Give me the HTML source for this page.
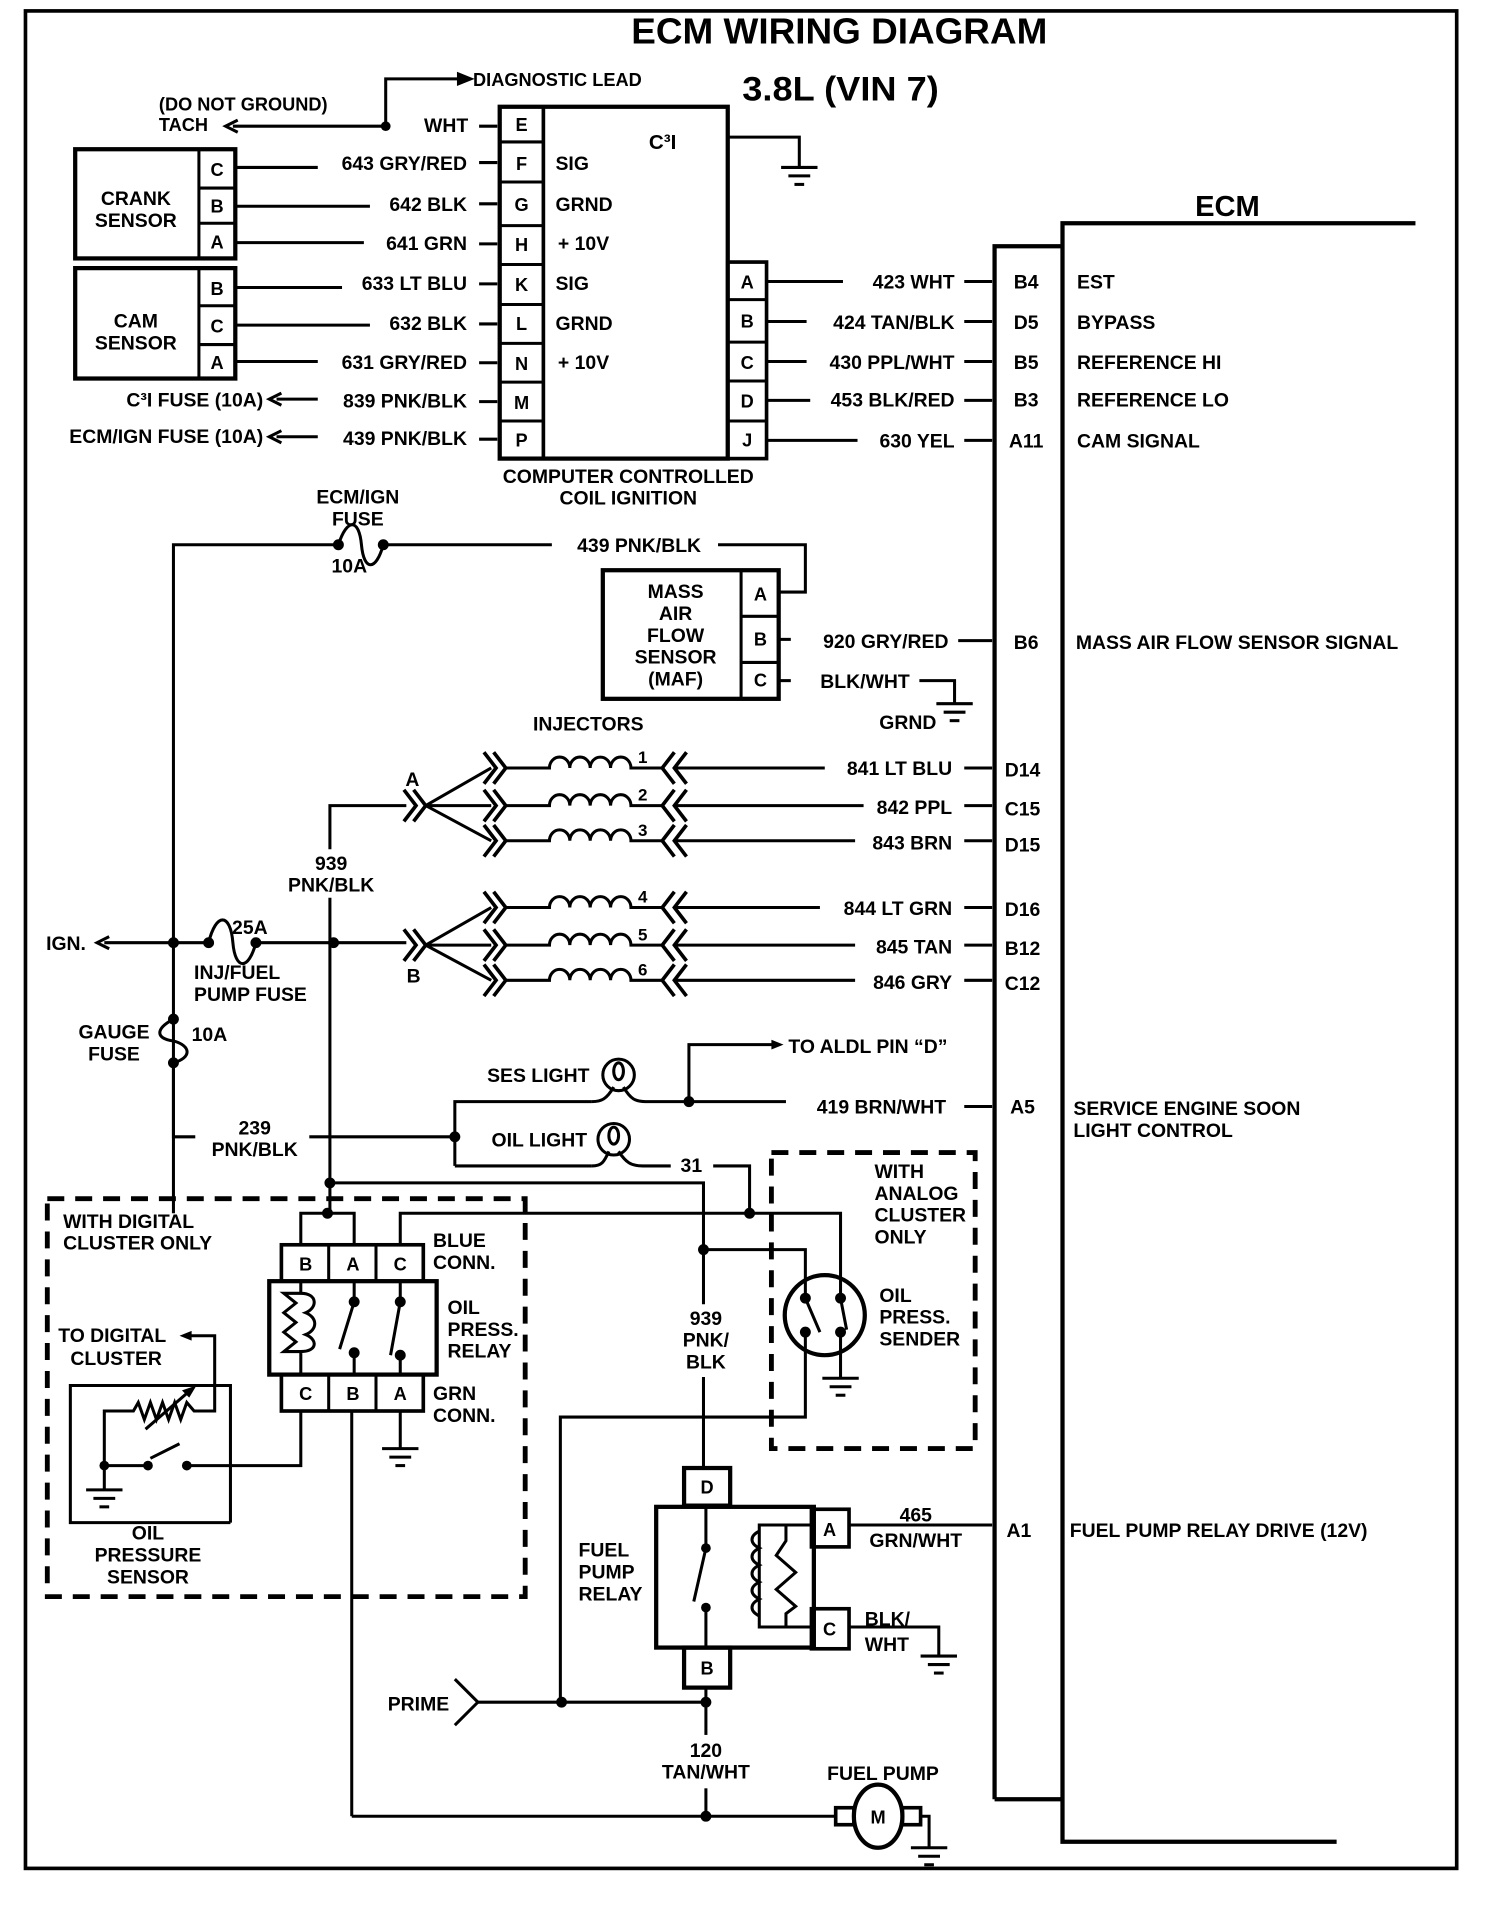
<!DOCTYPE html>
<html><head><meta charset="utf-8"><style>
html,body{margin:0;padding:0;background:#fff;}
svg{display:block;}
text{font-family:"Liberation Sans",sans-serif;font-weight:bold;fill:#000;}
</style></head><body>
<svg width="1504" height="1906" viewBox="0 0 1240 1571" preserveAspectRatio="none" xmlns="http://www.w3.org/2000/svg">
<defs>
<g id="gnd"><line x1="-15" y1="0" x2="15" y2="0" stroke="#000" stroke-width="2.5"/><line x1="-9" y1="7" x2="9" y2="7" stroke="#000" stroke-width="2.5"/><line x1="-4" y1="14" x2="4" y2="14" stroke="#000" stroke-width="2.5"/></g>
<g id="lch"><polyline points="-10,-13 0,0 -10,13" fill="none" stroke="#000" stroke-width="3"/><polyline points="-2,-13 8,0 -2,13" fill="none" stroke="#000" stroke-width="3"/></g>
<g id="rch"><polyline points="10,-13 0,0 10,13" fill="none" stroke="#000" stroke-width="3"/><polyline points="20,-13 10,0 20,13" fill="none" stroke="#000" stroke-width="3"/></g>
</defs>
<rect x="0" y="0" width="1240" height="1571" fill="#fff"/>
<g fill="none" stroke="#000" stroke-width="2.5">
<rect x="21" y="9" width="1180" height="1531" stroke-width="3"/>
</g>
<text x="692" y="36" font-size="30" text-anchor="middle" textLength="343" lengthAdjust="spacingAndGlyphs">ECM WIRING DIAGRAM</text>
<text x="693" y="83" font-size="28" text-anchor="middle" textLength="162" lengthAdjust="spacingAndGlyphs">3.8L (VIN 7)</text>

<g fill="none" stroke="#000" stroke-width="2.5">
<polyline points="318,104 318,65 380,65"/>
<polygon points="388,65 378,61 378,69" fill="#000"/>
<line x1="318" y1="104" x2="192" y2="104"/>
<polyline points="196,99 186,104 196,109"/>
<line x1="395" y1="104" x2="410" y2="104"/>
<rect x="412" y="88" width="188" height="290" stroke-width="3.5"/>
<line x1="448" y1="88" x2="448" y2="378" stroke-width="3"/>
<rect x="600" y="216" width="32" height="162" stroke-width="3"/>
<line x1="600" y1="247" x2="632" y2="247"/><line x1="600" y1="282" x2="632" y2="282"/><line x1="600" y1="314" x2="632" y2="314"/><line x1="600" y1="347" x2="632" y2="347"/>
<line x1="412" y1="117" x2="448" y2="117"/><line x1="412" y1="150" x2="448" y2="150"/><line x1="412" y1="186" x2="448" y2="186"/><line x1="412" y1="218" x2="448" y2="218"/><line x1="412" y1="251" x2="448" y2="251"/><line x1="412" y1="283" x2="448" y2="283"/><line x1="412" y1="315" x2="448" y2="315"/><line x1="412" y1="347" x2="448" y2="347"/>
<polyline points="600,113 659,113 659,138"/>
<rect x="62" y="123" width="132" height="90" stroke-width="3.5"/>
<line x1="164" y1="123" x2="164" y2="213"/><line x1="164" y1="155" x2="194" y2="155"/><line x1="164" y1="184" x2="194" y2="184"/>
<rect x="62" y="221" width="132" height="91" stroke-width="3.5"/>
<line x1="164" y1="221" x2="164" y2="312"/><line x1="164" y1="252" x2="194" y2="252"/><line x1="164" y1="284" x2="194" y2="284"/>
<line x1="194" y1="138" x2="262" y2="138"/>
<line x1="194" y1="170" x2="305" y2="170"/>
<line x1="194" y1="200" x2="300" y2="200"/>
<line x1="194" y1="237" x2="282" y2="237"/>
<line x1="194" y1="268" x2="305" y2="268"/>
<line x1="194" y1="298" x2="262" y2="298"/>
<line x1="395" y1="134" x2="410" y2="134"/><line x1="395" y1="168" x2="410" y2="168"/><line x1="395" y1="201" x2="410" y2="201"/><line x1="395" y1="234" x2="410" y2="234"/><line x1="395" y1="267" x2="410" y2="267"/><line x1="395" y1="299" x2="410" y2="299"/><line x1="395" y1="331" x2="410" y2="331"/><line x1="395" y1="362" x2="410" y2="362"/>
<line x1="262" y1="329" x2="228" y2="329"/><polyline points="232,324 222,329 232,334"/>
<line x1="262" y1="360" x2="228" y2="360"/><polyline points="232,355 222,360 232,365"/>
<line x1="632" y1="232" x2="695" y2="232"/><line x1="632" y1="265" x2="665" y2="265"/><line x1="632" y1="298" x2="665" y2="298"/><line x1="632" y1="330" x2="668" y2="330"/><line x1="632" y1="363" x2="707" y2="363"/>
<line x1="795" y1="232" x2="818" y2="232"/><line x1="795" y1="265" x2="818" y2="265"/><line x1="795" y1="298" x2="818" y2="298"/><line x1="795" y1="330" x2="818" y2="330"/><line x1="795" y1="363" x2="818" y2="363"/>
<polyline points="820,1483 820,203 876,203" stroke-width="3.5"/>
<line x1="820" y1="1483" x2="876" y2="1483" stroke-width="3.5"/>
<polyline points="1167,184 876,184 876,1518 1102,1518" stroke-width="3.5"/>
<polyline points="143,1000 143,449 279,449"/>
<path d="M279,449 C286,427 296,427 298,449 C300,471 310,471 316,449"/>
<line x1="316" y1="449" x2="455" y2="449"/>
<polyline points="592,449 664,449 664,488 642,488"/>
<rect x="497" y="470" width="145" height="106" stroke-width="3.5"/>
<line x1="611" y1="470" x2="611" y2="576"/><line x1="611" y1="508" x2="642" y2="508"/><line x1="611" y1="546" x2="642" y2="546"/>
<line x1="642" y1="527" x2="652" y2="527"/><line x1="642" y1="561" x2="652" y2="561"/>
<line x1="790" y1="528" x2="818" y2="528"/>
<polyline points="758,561 787,561 787,580"/>
</g>
<use href="#gnd" x="787" y="580"/>
<use href="#gnd" x="659" y="138"/>
<circle cx="318" cy="104" r="4"/><circle cx="279" cy="449" r="4.5"/><circle cx="316" cy="449" r="4.5"/>

<g font-size="16">
<text x="390" y="71" font-size="15">DIAGNOSTIC LEAD</text>
<text x="131" y="91" font-size="15">(DO NOT GROUND)</text>
<text x="131" y="108" font-size="15">TACH</text>
<text x="386" y="109" text-anchor="end">WHT</text>
<text x="385" y="140" text-anchor="end">643 GRY/RED</text>
<text x="385" y="174" text-anchor="end">642 BLK</text>
<text x="385" y="206" text-anchor="end">641 GRN</text>
<text x="385" y="239" text-anchor="end">633 LT BLU</text>
<text x="385" y="272" text-anchor="end">632 BLK</text>
<text x="385" y="304" text-anchor="end">631 GRY/RED</text>
<text x="385" y="336" text-anchor="end">839 PNK/BLK</text>
<text x="385" y="367" text-anchor="end">439 PNK/BLK</text>
<text x="217" y="335" text-anchor="end">C³I FUSE (10A)</text>
<text x="217" y="365" text-anchor="end">ECM/IGN FUSE (10A)</text>
<text x="112" y="169" text-anchor="middle">CRANK</text><text x="112" y="187" text-anchor="middle">SENSOR</text>
<text x="112" y="270" text-anchor="middle">CAM</text><text x="112" y="288" text-anchor="middle">SENSOR</text>
<g text-anchor="middle" font-size="15">
<text x="179" y="145">C</text><text x="179" y="175">B</text><text x="179" y="205">A</text>
<text x="179" y="243">B</text><text x="179" y="274">C</text><text x="179" y="304">A</text>
<text x="430" y="108">E</text><text x="430" y="140">F</text><text x="430" y="174">G</text><text x="430" y="207">H</text><text x="430" y="240">K</text><text x="430" y="272">L</text><text x="430" y="305">N</text><text x="430" y="337">M</text><text x="430" y="368">P</text>
<text x="616" y="238">A</text><text x="616" y="270">B</text><text x="616" y="304">C</text><text x="616" y="336">D</text><text x="616" y="368">J</text>
<text x="627" y="495">A</text><text x="627" y="532">B</text><text x="627" y="566">C</text>
</g>
<text x="458" y="140">SIG</text><text x="458" y="174">GRND</text><text x="460" y="206">+ 10V</text>
<text x="458" y="239">SIG</text><text x="458" y="272">GRND</text><text x="460" y="304">+ 10V</text>
<text x="535" y="123" font-size="17">C³I</text>
<text x="518" y="398" text-anchor="middle">COMPUTER CONTROLLED</text>
<text x="518" y="416" text-anchor="middle">COIL IGNITION</text>
<text x="787" y="238" text-anchor="end">423 WHT</text>
<text x="787" y="271" text-anchor="end">424 TAN/BLK</text>
<text x="787" y="304" text-anchor="end">430 PPL/WHT</text>
<text x="787" y="335" text-anchor="end">453 BLK/RED</text>
<text x="787" y="369" text-anchor="end">630 YEL</text>
<text x="1012" y="178" font-size="24" text-anchor="middle">ECM</text>
<g text-anchor="middle">
<text x="846" y="238">B4</text><text x="846" y="271">D5</text><text x="846" y="304">B5</text><text x="846" y="335">B3</text><text x="846" y="369">A11</text>
<text x="846" y="535">B6</text><text x="843" y="640">D14</text><text x="843" y="672">C15</text><text x="843" y="702">D15</text><text x="843" y="755">D16</text><text x="843" y="787">B12</text><text x="843" y="816">C12</text>
<text x="843" y="918">A5</text><text x="840" y="1267">A1</text>
</g>
<text x="888" y="238">EST</text><text x="888" y="271">BYPASS</text><text x="888" y="304">REFERENCE HI</text><text x="888" y="335">REFERENCE LO</text><text x="888" y="369">CAM SIGNAL</text>
<text x="887" y="535">MASS AIR FLOW SENSOR SIGNAL</text>
<text x="885" y="919">SERVICE ENGINE SOON</text><text x="885" y="937">LIGHT CONTROL</text>
<text x="882" y="1267">FUEL PUMP RELAY DRIVE (12V)</text>
<text x="295" y="415" text-anchor="middle">ECM/IGN</text><text x="295" y="433" text-anchor="middle">FUSE</text><text x="288" y="472" text-anchor="middle">10A</text>
<text x="578" y="455" text-anchor="end">439 PNK/BLK</text>
<g text-anchor="middle"><text x="557" y="493">MASS</text><text x="557" y="511">AIR</text><text x="557" y="529">FLOW</text><text x="557" y="547">SENSOR</text><text x="557" y="565">(MAF)</text></g>
<text x="782" y="534" text-anchor="end">920 GRY/RED</text>
<text x="750" y="567" text-anchor="end">BLK/WHT</text>
<text x="772" y="601" text-anchor="end">GRND</text>
<text x="485" y="602" text-anchor="middle">INJECTORS</text>
</g>

<g fill="none" stroke="#000" stroke-width="2.5">
<path d="M417,633 H453 a8.4,9 0 0 1 16.8,0 a8.4,9 0 0 1 16.8,0 a8.4,9 0 0 1 16.8,0 a8.4,9 0 0 1 16.8,0 H547 M556,633 H680"/>
<path d="M417,664 H453 a8.4,9 0 0 1 16.8,0 a8.4,9 0 0 1 16.8,0 a8.4,9 0 0 1 16.8,0 a8.4,9 0 0 1 16.8,0 H547 M556,664 H712"/>
<path d="M417,693 H453 a8.4,9 0 0 1 16.8,0 a8.4,9 0 0 1 16.8,0 a8.4,9 0 0 1 16.8,0 a8.4,9 0 0 1 16.8,0 H547 M556,693 H705"/>
<path d="M417,748 H453 a8.4,9 0 0 1 16.8,0 a8.4,9 0 0 1 16.8,0 a8.4,9 0 0 1 16.8,0 a8.4,9 0 0 1 16.8,0 H547 M556,748 H676"/>
<path d="M417,779 H453 a8.4,9 0 0 1 16.8,0 a8.4,9 0 0 1 16.8,0 a8.4,9 0 0 1 16.8,0 a8.4,9 0 0 1 16.8,0 H547 M556,779 H705"/>
<path d="M417,808 H453 a8.4,9 0 0 1 16.8,0 a8.4,9 0 0 1 16.8,0 a8.4,9 0 0 1 16.8,0 a8.4,9 0 0 1 16.8,0 H547 M556,808 H705"/>
<path d="M351,664 L405,633 M351,664 H405 M351,664 L405,693"/>
<path d="M351,779 L405,748 M351,779 H405 M351,779 L405,808"/>
<line x1="795" y1="633" x2="818" y2="633"/><line x1="795" y1="664" x2="818" y2="664"/><line x1="795" y1="693" x2="818" y2="693"/><line x1="795" y1="748" x2="818" y2="748"/><line x1="795" y1="779" x2="818" y2="779"/><line x1="795" y1="808" x2="818" y2="808"/>
<polyline points="272,700 272,664 335,664"/>
<line x1="272" y1="740" x2="272" y2="1000"/>
<line x1="86" y1="777" x2="172" y2="777"/>
<polyline points="90,772 80,777 90,782"/>
<path d="M172,777 C178,752 190,752 192,777 C194,800 205,800 211,777"/>
<line x1="211" y1="777" x2="335" y2="777"/>
<path d="M143,840 C128,848 128,856 143,858 C158,862 158,872 143,876"/>
<polyline points="143,876 143,937 161,937"/>
<line x1="255" y1="937" x2="375" y2="937"/>
<polyline points="375,961 375,908 488,908"/>
<line x1="375" y1="961" x2="488" y2="961"/>
</g>
<g>
<use href="#lch" x="409" y="633"/><use href="#lch" x="409" y="664"/><use href="#lch" x="409" y="693"/>
<use href="#lch" x="409" y="748"/><use href="#lch" x="409" y="779"/><use href="#lch" x="409" y="808"/>
<use href="#rch" x="546" y="633"/><use href="#rch" x="546" y="664"/><use href="#rch" x="546" y="693"/>
<use href="#rch" x="546" y="748"/><use href="#rch" x="546" y="779"/><use href="#rch" x="546" y="808"/>
<use href="#lch" x="343" y="664"/><use href="#lch" x="343" y="779"/>
</g>
<circle cx="143" cy="777" r="4.5"/><circle cx="172" cy="777" r="4.5"/><circle cx="211" cy="777" r="4.5"/><circle cx="275" cy="777" r="4.5"/>
<circle cx="143" cy="840" r="4.5"/><circle cx="143" cy="876" r="4.5"/><circle cx="375" cy="937" r="4.5"/>
<g font-size="16">
<g font-size="14"><text x="526" y="629">1</text><text x="526" y="660">2</text><text x="526" y="689">3</text><text x="526" y="744">4</text><text x="526" y="775">5</text><text x="526" y="804">6</text></g>
<text x="785" y="639" text-anchor="end">841 LT BLU</text>
<text x="785" y="671" text-anchor="end">842 PPL</text>
<text x="785" y="700" text-anchor="end">843 BRN</text>
<text x="785" y="754" text-anchor="end">844 LT GRN</text>
<text x="785" y="786" text-anchor="end">845 TAN</text>
<text x="785" y="815" text-anchor="end">846 GRY</text>
<text x="340" y="648" text-anchor="middle">A</text><text x="341" y="810" text-anchor="middle">B</text>
<text x="273" y="717" text-anchor="middle">939</text><text x="273" y="735" text-anchor="middle">PNK/BLK</text>
<text x="38" y="783">IGN.</text>
<text x="206" y="770" text-anchor="middle">25A</text>
<text x="160" y="807">INJ/FUEL</text><text x="160" y="825">PUMP FUSE</text>
<text x="94" y="856" text-anchor="middle">GAUGE</text><text x="94" y="874" text-anchor="middle">FUSE</text>
<text x="158" y="858">10A</text>
<text x="210" y="935" text-anchor="middle">239</text><text x="210" y="953" text-anchor="middle">PNK/BLK</text>
<text x="486" y="892" text-anchor="end">SES LIGHT</text>
<text x="484" y="945" text-anchor="end">OIL LIGHT</text>
<text x="650" y="868">TO ALDL PIN “D”</text>
<text x="780" y="918" text-anchor="end">419 BRN/WHT</text>
<text x="570" y="966" text-anchor="middle">31</text>
</g>

<g fill="none" stroke="#000" stroke-width="2.5">
<circle cx="510" cy="886" r="13"/><ellipse cx="510" cy="883" rx="4" ry="7"/>
<path d="M488,908 C496,908 500,906 506,896 M514,896 C520,906 524,908 532,908 H648"/>
<polyline points="568,908 568,861 638,861"/>
<circle cx="506" cy="939" r="13"/><ellipse cx="506" cy="936" rx="4" ry="7"/>
<path d="M488,961 C496,961 498,958 502,949 M510,949 C516,958 520,961 530,961 H553"/>
<polyline points="588,961 618,961 618,1000"/>
<line x1="795" y1="912" x2="818" y2="912"/>
</g>
<polygon points="646,861 636,857 636,865"/>
<circle cx="568" cy="908" r="4.5"/>

<g fill="none" stroke="#000" stroke-width="2.5">
<polyline points="272,975 580,975 580,1075"/>
<line x1="580" y1="1135" x2="580" y2="1209"/>
<polyline points="580,1030 664,1030 664,1066"/>
<polyline points="248,1026 248,1000 292,1000 292,1026"/>
<polyline points="330,1026 330,1000 693,1000 693,1066"/>
<rect x="39" y="988" width="394" height="328" stroke-width="4" stroke-dasharray="14,9"/>
<rect x="636" y="950" width="168" height="244" stroke-width="4" stroke-dasharray="14,9"/>
<rect x="232" y="1026" width="117" height="30" stroke-width="3"/>
<line x1="271" y1="1026" x2="271" y2="1056"/><line x1="310" y1="1026" x2="310" y2="1056"/>
<rect x="222" y="1056" width="138" height="77" stroke-width="3.5"/>
<rect x="232" y="1133" width="117" height="30" stroke-width="3"/>
<line x1="271" y1="1133" x2="271" y2="1163"/><line x1="310" y1="1133" x2="310" y2="1163"/>
<path d="M248,1056 V1066 H234 L244,1074 L234,1082 L244,1090 L234,1098 L244,1106 L234,1114 H248 V1133 M248,1066 C262,1066 262,1078 252,1082 C262,1086 262,1096 252,1100 C262,1104 262,1114 248,1114"/>
<path d="M292,1056 V1073 L280,1112 M292,1115 V1133 M330,1056 V1073 L322,1117 M330,1117 V1133"/>
<polyline points="248,1163 248,1208 156,1208"/>
<line x1="290" y1="1163" x2="290" y2="1497"/>
<line x1="330" y1="1163" x2="330" y2="1194"/>
<polyline points="190,1255 58,1255 58,1142 190,1142 190,1255"/>
<polyline points="86,1228 86,1163 110,1163 114,1156 119,1170 124,1156 129,1170 134,1156 139,1170 144,1156 149,1170 154,1156 160,1163 177,1163 177,1101 154,1101"/>
<line x1="120" y1="1178" x2="158" y2="1145"/>
<line x1="86" y1="1208" x2="122" y2="1208"/>
<line x1="124" y1="1202" x2="148" y2="1190"/>
<circle cx="680" cy="1084" r="33" stroke-width="3.5"/>
<path d="M664,1066 V1070 L676,1098 M664,1098 V1168 H462 V1403 M693,1070 L698,1096 M693,1098 V1136"/>
<rect x="564" y="1210" width="38" height="31" stroke-width="3.5"/>
<rect x="541" y="1242" width="130" height="116" stroke-width="3.5"/>
<rect x="669" y="1244" width="31" height="31" stroke-width="3"/>
<rect x="669" y="1326" width="31" height="33" stroke-width="3"/>
<rect x="564" y="1358" width="38" height="33" stroke-width="3.5"/>
<path d="M582,1241 V1276 L572,1320 M582,1325 V1358"/>
<path d="M669,1257 H626 V1341 H669 M626,1262 C618,1266 618,1272 626,1276 C618,1280 618,1286 626,1290 C618,1294 618,1300 626,1304 C618,1308 618,1314 626,1318 C618,1322 618,1328 626,1332 M648,1257 V1270 L640,1282 L656,1296 L640,1310 L656,1324 L648,1330 V1341"/>
<line x1="700" y1="1257" x2="818" y2="1257"/>
<polyline points="700,1341 774,1341 774,1365"/>
<polyline points="375,1384 394,1403 375,1422"/>
<line x1="394" y1="1403" x2="582" y2="1403"/>
<line x1="582" y1="1391" x2="582" y2="1430"/>
<line x1="582" y1="1474" x2="582" y2="1497"/>
<line x1="290" y1="1497" x2="690" y2="1497"/>
<ellipse cx="724" cy="1497" rx="20" ry="26" stroke-width="3.5"/>
<rect x="689" y="1490" width="15" height="14" stroke-width="3"/>
<rect x="744" y="1490" width="15" height="14" stroke-width="3"/>
<polyline points="759,1497 766,1497 766,1523"/>
</g>
<use href="#gnd" x="330" y="1194"/>
<use href="#gnd" x="86" y="1228"/>
<use href="#gnd" x="693" y="1136"/>
<use href="#gnd" x="774" y="1365"/>
<use href="#gnd" x="766" y="1523"/>
<polygon points="148,1101 158,1097 158,1105"/>
<polygon points="162,1142 150,1146 156,1152"/>
<g>
<circle cx="272" cy="975" r="4.5"/><circle cx="270" cy="1000" r="4.5"/><circle cx="580" cy="1030" r="4.5"/><circle cx="618" cy="1000" r="4.5"/>
<circle cx="292" cy="1073" r="4.5"/><circle cx="292" cy="1115" r="4.5"/><circle cx="330" cy="1073" r="4.5"/><circle cx="330" cy="1117" r="4.5"/>
<circle cx="86" cy="1208" r="4"/><circle cx="122" cy="1208" r="4"/><circle cx="154" cy="1208" r="4"/>
<circle cx="664" cy="1070" r="4.5"/><circle cx="693" cy="1070" r="4.5"/><circle cx="664" cy="1098" r="4.5"/><circle cx="693" cy="1098" r="4.5"/>
<circle cx="582" cy="1276" r="4"/><circle cx="582" cy="1325" r="4"/>
<circle cx="463" cy="1403" r="4.5"/><circle cx="582" cy="1403" r="4.5"/><circle cx="582" cy="1497" r="4.5"/>
</g>
<g font-size="16">
<g text-anchor="middle" font-size="15">
<text x="252" y="1047">B</text><text x="291" y="1047">A</text><text x="330" y="1047">C</text>
<text x="252" y="1154">C</text><text x="291" y="1154">B</text><text x="330" y="1154">A</text>
<text x="583" y="1231">D</text><text x="684" y="1266">A</text><text x="684" y="1348">C</text><text x="583" y="1380">B</text>
<text x="724" y="1503">M</text>
</g>
<text x="52" y="1012">WITH DIGITAL</text><text x="52" y="1030">CLUSTER ONLY</text>
<text x="357" y="1028">BLUE</text><text x="357" y="1046">CONN.</text>
<text x="369" y="1083">OIL</text><text x="369" y="1101">PRESS.</text><text x="369" y="1119">RELAY</text>
<text x="357" y="1154">GRN</text><text x="357" y="1172">CONN.</text>
<text x="48" y="1106">TO DIGITAL</text><text x="58" y="1125">CLUSTER</text>
<text x="122" y="1269" text-anchor="middle">OIL</text><text x="122" y="1287" text-anchor="middle">PRESSURE</text><text x="122" y="1305" text-anchor="middle">SENSOR</text>
<text x="721" y="971">WITH</text><text x="721" y="989">ANALOG</text><text x="721" y="1007">CLUSTER</text><text x="721" y="1025">ONLY</text>
<text x="725" y="1073">OIL</text><text x="725" y="1091">PRESS.</text><text x="725" y="1109">SENDER</text>
<text x="582" y="1092" text-anchor="middle">939</text><text x="582" y="1110" text-anchor="middle">PNK/</text><text x="582" y="1128" text-anchor="middle">BLK</text>
<text x="477" y="1283">FUEL</text><text x="477" y="1301">PUMP</text><text x="477" y="1319">RELAY</text>
<text x="755" y="1254" text-anchor="middle">465</text><text x="755" y="1275" text-anchor="middle">GRN/WHT</text>
<text x="713" y="1340">BLK/</text><text x="713" y="1361">WHT</text>
<text x="345" y="1410" text-anchor="middle">PRIME</text>
<text x="582" y="1448" text-anchor="middle">120</text><text x="582" y="1466" text-anchor="middle">TAN/WHT</text>
<text x="728" y="1467" text-anchor="middle">FUEL PUMP</text>
</g>
</svg>
</body></html>
